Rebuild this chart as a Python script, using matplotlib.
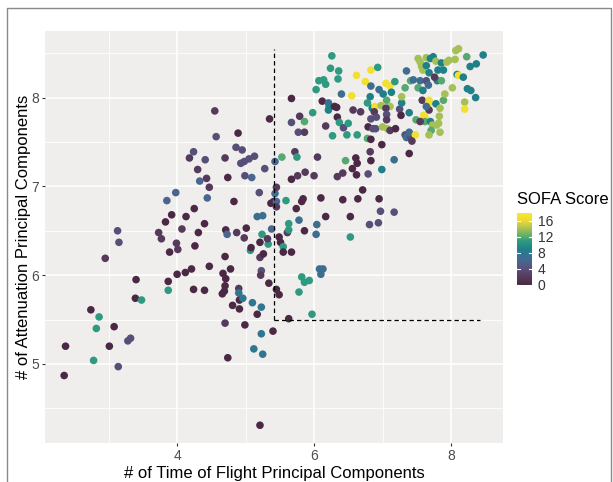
import matplotlib
matplotlib.use("Agg")
import matplotlib.pyplot as plt
from matplotlib.colors import LinearSegmentedColormap, Normalize
from matplotlib.lines import Line2D

plt.rcParams['font.family'] = ['Liberation Sans', 'DejaVu Sans']

# x: number of time-of-flight principal components
tof = [2.35, 2.37, 2.74, 2.86, 2.82, 2.78, 2.95, 3.13, 3.15, 3.08, 3.01, 3.14, 3.28, 3.32, 3.40, 3.39, 3.48,
       3.73, 3.77, 3.83, 3.92, 3.85, 3.98, 3.89, 3.99, 4.01, 3.87, 3.87, 4.00, 4.12, 4.21, 4.07, 4.13, 4.25,
       4.31, 4.26, 4.40, 4.24, 4.40, 4.47, 4.18, 4.24, 4.30, 4.33, 4.41, 4.43, 4.47, 4.44, 4.55, 4.57, 4.70,
       4.74, 4.83, 4.86, 4.89, 4.95, 4.93, 4.98, 5.05, 5.13, 4.99, 5.09, 5.28, 5.20, 5.35, 5.43, 4.71, 4.73,
       4.87, 4.98, 5.01, 4.70, 4.78, 4.67, 4.71, 4.70, 4.69, 4.66, 4.90, 4.90, 4.91, 4.96, 4.81, 4.91, 5.10,
       5.23, 5.17, 4.70, 4.99, 5.23, 5.40, 5.12, 5.25, 4.74, 5.21, 5.07, 5.08, 5.21, 5.24, 5.17, 5.25, 5.33,
       5.32, 5.38, 5.21, 5.26, 5.23, 5.22, 5.34, 5.37, 5.41, 5.43, 5.45, 5.45, 5.45, 5.45, 5.49, 5.63, 5.49,
       5.51, 5.55, 5.55, 5.67, 5.61, 5.63, 5.63, 5.78, 5.74, 5.82, 5.84, 5.86, 5.59, 5.67, 5.76, 5.87, 6.00,
       5.72, 5.75, 5.53, 6.05, 6.04, 6.03, 6.10, 6.17, 6.08, 6.13, 6.10, 5.82, 5.86, 5.93, 5.78, 5.97, 5.67,
       5.67, 5.79, 5.77, 5.86, 5.86, 5.98, 6.03, 6.07, 6.14, 6.17, 6.26, 6.24, 6.36, 6.35, 6.12, 6.21, 6.22,
       6.21, 6.30, 6.33, 6.40, 6.17, 6.34, 6.37, 6.43, 6.27, 6.48, 6.50, 6.55, 6.57, 6.62, 6.68, 6.63, 6.75,
       6.83, 6.93, 6.83, 6.82, 6.78, 6.85, 6.89, 6.88, 6.83, 6.91, 6.79, 6.86, 6.90, 6.78, 6.83, 6.99, 7.00,
       7.05, 7.11, 6.95, 7.01, 7.13, 7.18, 7.06, 6.98, 7.11, 7.05, 7.06, 7.06, 7.07, 7.11, 7.19, 7.25, 7.28,
       7.28, 7.33, 7.35, 7.41, 7.45, 7.33, 7.35, 7.41, 7.39, 7.39, 7.27, 7.49, 7.48, 7.43, 7.39, 7.52, 7.55,
       7.52, 7.55, 7.59, 7.57, 7.64, 7.74, 7.70, 7.64, 7.68, 7.64, 7.67, 7.59, 7.58, 7.68, 7.67, 7.68, 7.64,
       7.60, 7.62, 7.62, 7.55, 7.70, 7.73, 7.79, 7.82, 7.83, 7.71, 7.68, 7.84, 7.78, 7.84, 7.89, 7.91, 7.80,
       7.86, 7.81, 7.89, 7.76, 7.78, 7.86, 7.94, 7.97, 8.06, 8.07, 8.11, 8.02, 8.09, 8.11, 8.18, 8.23, 8.28,
       8.37, 8.47, 8.24, 8.29, 8.36, 8.20, 8.20, 6.34, 6.42, 6.46, 6.56, 6.61, 6.63, 6.62, 6.79, 6.83, 6.82,
       6.99, 7.17, 6.71, 6.42, 6.64, 6.95, 6.97, 7.17, 6.53, 6.81, 6.94, 6.53]

# y: number of attenuation principal components
att = [4.87, 5.20, 5.61, 5.53, 5.40, 5.04, 6.19, 6.50, 6.37, 5.42, 5.20, 4.97, 5.26, 5.29, 5.95, 5.74, 5.72,
       6.48, 6.41, 6.60, 6.68, 6.84, 6.93, 6.26, 6.36, 6.29, 5.93, 5.83, 6.01, 6.03, 6.07, 6.52, 6.66, 6.75,
       6.48, 6.33, 6.58, 5.84, 5.83, 6.10, 7.32, 7.39, 7.19, 7.06, 7.30, 7.09, 6.99, 6.87, 7.85, 7.56, 7.32,
       7.10, 6.83, 7.44, 7.60, 7.41, 7.26, 7.28, 7.31, 7.34, 7.12, 7.10, 7.20, 6.93, 7.76, 7.28, 6.51, 6.46,
       6.48, 6.42, 6.53, 6.21, 6.07, 6.02, 5.96, 5.88, 5.82, 5.79, 5.85, 5.80, 5.72, 5.74, 5.66, 5.62, 5.69,
       5.64, 5.56, 5.46, 5.44, 5.34, 5.37, 5.17, 5.11, 5.07, 4.31, 6.28, 6.31, 6.37, 6.46, 6.66, 6.67, 6.35,
       6.41, 6.52, 6.20, 6.24, 6.05, 6.00, 5.91, 6.81, 6.83, 6.92, 6.99, 6.83, 6.77, 5.84, 5.78, 5.51, 6.43,
       6.37, 6.32, 6.26, 6.26, 6.48, 6.51, 6.58, 6.62, 6.75, 6.83, 6.86, 6.50, 6.84, 7.08, 7.12, 7.16, 7.12,
       7.39, 7.33, 7.33, 7.33, 6.57, 6.46, 6.87, 6.66, 6.07, 6.07, 6.01, 5.98, 5.92, 5.94, 5.81, 5.56, 7.99,
       7.72, 7.79, 7.61, 7.61, 7.73, 7.83, 8.09, 8.19, 8.20, 8.15, 8.47, 8.33, 8.30, 8.21, 7.96, 7.94, 7.90,
       7.86, 7.90, 7.89, 8.04, 7.68, 7.78, 7.72, 7.66, 7.57, 7.58, 7.71, 8.02, 7.86, 8.25, 7.84, 7.58, 8.18,
       8.31, 8.34, 8.13, 8.01, 7.94, 7.88, 7.90, 7.84, 7.76, 7.78, 7.67, 7.65, 7.65, 7.54, 7.53, 7.47, 7.67,
       8.16, 8.13, 8.09, 8.04, 8.06, 8.18, 7.97, 7.91, 7.90, 7.88, 7.81, 7.75, 7.65, 7.63, 7.65, 7.87, 7.94,
       8.01, 8.11, 8.30, 8.19, 8.20, 7.58, 7.55, 7.55, 7.83, 7.61, 7.80, 7.75, 7.58, 7.51, 7.37, 8.11, 8.19,
       8.44, 8.40, 8.31, 8.35, 8.45, 8.46, 8.44, 8.36, 8.28, 8.19, 8.14, 8.08, 7.97, 7.97, 7.93, 7.86, 7.90,
       7.80, 7.78, 7.73, 7.73, 7.73, 7.69, 7.69, 7.71, 7.79, 7.63, 7.58, 7.61, 7.93, 7.88, 7.97, 8.04, 8.19,
       8.19, 8.31, 8.31, 8.23, 8.41, 8.39, 8.40, 8.42, 8.43, 8.53, 8.55, 8.11, 8.26, 8.25, 8.23, 8.46, 8.35,
       8.38, 8.48, 8.10, 8.08, 8.00, 7.95, 7.87, 7.11, 7.15, 7.29, 7.20, 7.32, 7.26, 7.13, 7.14, 7.29, 7.39,
       7.19, 7.30, 6.96, 6.85, 6.86, 6.86, 6.72, 6.71, 6.66, 6.57, 6.59, 6.43]

# SOFA score of each patient
sofa = [0, 0, 0, 11, 11, 11, 2, 4, 4, 0, 0, 4, 4, 4, 0, 0, 11,
        2, 2, 0, 0, 6, 6, 0, 2, 2, 0, 11, 0, 0, 0, 2, 0, 0,
        0, 0, 0, 0, 0, 0, 2, 4, 2, 6, 4, 2, 2, 6, 2, 4, 2,
        0, 0, 4, 0, 4, 4, 4, 4, 4, 4, 6, 4, 4, 0, 6, 0, 6,
        2, 2, 0, 0, 0, 0, 0, 0, 0, 0, 2, 8, 0, 8, 0, 0, 8,
        8, 0, 2, 0, 8, 0, 8, 8, 0, 0, 11, 0, 0, 11, 7, 7, 11,
        2, 6, 2, 0, 4, 2, 0, 0, 0, 7, 2, 6, 2, 0, 0, 0, 0,
        0, 11, 0, 0, 2, 11, 11, 7, 0, 0, 0, 0, 11, 0, 2, 2, 2,
        2, 11, 12, 2, 7, 7, 0, 0, 7, 7, 7, 11, 11, 11, 11, 11, 0,
        4, 2, 4, 2, 12, 11, 11, 11, 11, 11, 11, 11, 11, 11, 0, 7, 9,
        9, 0, 0, 7, 2, 0, 11, 4, 11, 11, 11, 17, 2, 17, 2, 11, 17,
        17, 11, 7, 9, 11, 9, 17, 2, 4, 4, 0, 4, 4, 12, 0, 0, 14,
        17, 17, 7, 9, 9, 11, 12, 14, 14, 2, 4, 2, 14, 2, 0, 4, 9,
        14, 12, 7, 12, 7, 4, 7, 4, 9, 7, 0, 12, 17, 2, 0, 12, 7,
        14, 14, 14, 14, 14, 9, 9, 9, 9, 4, 7, 9, 2, 17, 17, 2, 7,
        17, 17, 12, 2, 9, 14, 14, 14, 14, 12, 14, 14, 9, 14, 12, 14, 9,
        12, 9, 9, 2, 14, 9, 14, 14, 14, 14, 14, 14, 9, 17, 9, 12, 9,
        9, 9, 9, 9, 9, 14, 17, 2, 2, 12, 0, 0, 0, 0, 4, 0, 2,
        9, 7, 0, 0, 0, 0, 4, 4, 0, 4, 4, 11]

# viridis-like palette as it appears in the printed figure
sofa_cmap = LinearSegmentedColormap.from_list("sofa", [
    (0 / 18, '#4b2843'), (2 / 18, '#553a5c'), (4 / 18, '#58507a'),
    (6 / 18, '#4a6590'), (8 / 18, '#2f7790'), (9 / 18, '#1f8088'),
    (11 / 18, '#2e9a80'), (12 / 18, '#56a870'), (14 / 18, '#a3bf55'),
    (16 / 18, '#e8d838'), (18 / 18, '#fce82a')])
norm = Normalize(vmin=0, vmax=18)

fig = plt.figure(figsize=(6.13, 4.82), dpi=100)
ax = fig.add_axes([45 / 613, 1 - 443 / 482, 458 / 613, 412 / 482])
ax.set_facecolor('#efeeed')

ax.set_xlim(2.07, 8.76)
ax.set_ylim(4.11, 8.75)
ax.set_xticks([4, 6, 8])
ax.set_xticks([3, 5, 7], minor=True)
ax.set_yticks([5, 6, 7, 8])
ax.set_yticks([4.5, 5.5, 6.5, 7.5, 8.5], minor=True)
ax.grid(which='major', color='white', lw=1.1)
ax.grid(which='minor', color='white', lw=0.55)
ax.set_axisbelow(True)
for s in ax.spines.values():
    s.set_visible(False)
ax.tick_params(which='major', length=2.5, width=0.8, color='#333333',
               labelsize=10, labelcolor='#4d4d4d', pad=2)
ax.tick_params(which='minor', length=0)

sc = ax.scatter(tof, att, c=sofa, cmap=sofa_cmap, norm=norm, s=30,
                linewidths=0, zorder=3)

# threshold guide lines
ax.plot([5.42, 5.42], [5.5, 8.55], color='black', lw=0.9, ls=(0, (3.5, 2.5)), zorder=4)
ax.plot([5.42, 8.43], [5.5, 5.5], color='black', lw=0.9, ls=(0, (3.5, 2.5)), zorder=4)

ax.set_xlabel("# of Time of Flight Principal Components", fontsize=12, labelpad=2)
ax.set_ylabel("# of Attenuation Principal Components", fontsize=12, labelpad=0)

# colour bar legend
cax = fig.add_axes([517 / 613, 1 - 285 / 482, 15 / 613, 72 / 482])
cb = fig.colorbar(sc, cax=cax, ticks=[0, 4, 8, 12, 16])
cb.outline.set_visible(False)
cax.tick_params(length=0, labelsize=10, labelcolor='#333333', pad=4)
ytr = cax.get_yaxis_transform()
for v in [0, 4, 8, 12, 16]:
    cax.plot([0, 0.2], [v, v], color='white', lw=0.8, transform=ytr)
    cax.plot([0.8, 1.0], [v, v], color='white', lw=0.8, transform=ytr)
fig.text(517 / 613, 1 - 199 / 482, "SOFA Score", fontsize=12, va='center', ha='left')

# thin frame around the figure
fig.add_artist(Line2D([7 / 613, 7 / 613, 611 / 613, 611 / 613], [0, 1 - 8 / 482, 1 - 8 / 482, 0],
                      transform=fig.transFigure, color='#8a8a8a', lw=1))

fig.savefig("out.png", dpi=100)
